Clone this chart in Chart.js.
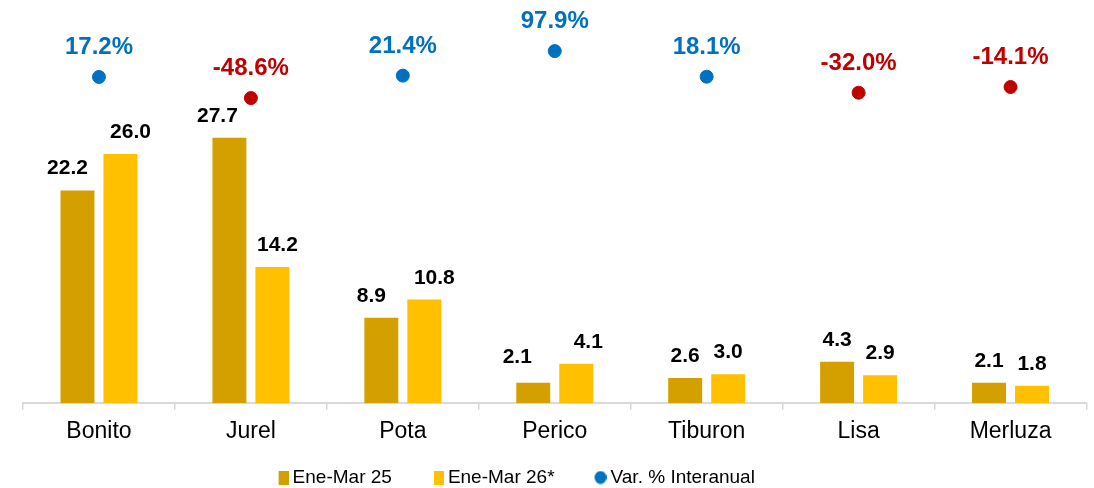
<!DOCTYPE html>
<html>
<head>
<meta charset="utf-8">
<script src="https://cdn.jsdelivr.net/npm/chart.js@4.4.1/dist/chart.umd.min.js"></script>
<style>
html, body { margin: 0; padding: 0; background: #fff; }
#wrap { width: 1094px; height: 488px; }
</style>
</head>
<body>
<div id="wrap"><canvas id="capturasChart" width="1094" height="488"></canvas></div>
<script>
const especies = ['Bonito', 'Jurel', 'Pota', 'Perico', 'Tiburon', 'Lisa', 'Merluza'];
const eneMar25 = [22.2, 27.7, 8.9, 2.1, 2.6, 4.3, 2.1];
const eneMar26 = [26.0, 14.2, 10.8, 4.1, 3.0, 2.9, 1.8];
const varInteranual = [17.2, -48.6, 21.4, 97.9, 18.1, -32.0, -14.1];

const fuente = "'Liberation Sans', Arial, sans-serif";
const azul = '#0070C0';
const rojo = '#C00000';
const colorVar = varInteranual.map(v => v < 0 ? rojo : azul);

// marcadores de la leyenda (figura pegada al borde derecho del lienzo)
function marcador(color, forma) {
    const c = document.createElement('canvas');
    c.width = 51;
    c.height = 14;
    const g = c.getContext('2d');
    g.fillStyle = color;
    if (forma === 'circle') {
        g.beginPath();
        g.ellipse(45, 7, 6, 6.5, 0, 0, Math.PI * 2);
        g.fill();
    } else {
        g.fillRect(41, 0, 10, 14);
    }
    return c;
}
const marcas = [marcador('#D4A000', 'rect'), marcador('#FFC000', 'rect'), marcador(azul, 'circle')];

// etiquetas de valores sobre barras y puntos
const etiquetas = {
    id: 'etiquetas',
    afterLayout(chart) {
        // leyenda algo más abajo y a la izquierda, como en el original
        const lg = chart.legend;
        lg.top += 9; lg.bottom += 9;
        lg.left -= 56; lg.right -= 56;
    },
    afterDatasetsDraw(chart) {
        const ctx = chart.ctx;
        ctx.save();
        ctx.textAlign = 'center';
        ctx.textBaseline = 'alphabetic';
        chart.data.datasets.forEach((ds, i) => {
            const meta = chart.getDatasetMeta(i);
            meta.data.forEach((el, j) => {
                const v = ds.data[j];
                if (ds.type === 'line') {
                    ctx.font = 'bold 24px ' + fuente;
                    ctx.fillStyle = colorVar[j];
                    ctx.fillText(v.toFixed(1) + '%', el.x, el.y - 23);
                } else {
                    ctx.font = 'bold 21px ' + fuente;
                    ctx.fillStyle = '#000';
                    const dx = ds.labelDx ? ds.labelDx[j] : 0;
                    const dy = ds.labelDy ? ds.labelDy[j] : 0;
                    ctx.fillText(v.toFixed(1), el.x + dx, el.y - 16 + dy);
                }
            });
        });
        ctx.restore();
    }
};

const ctx = document.getElementById('capturasChart').getContext('2d');
new Chart(ctx, {
    type: 'bar',
    data: {
        labels: especies,
        datasets: [
            {
                label: 'Ene-Mar 25',
                data: eneMar25,
                backgroundColor: '#D4A000',
                yAxisID: 'y',
                categoryPercentage: 0.566,
                barPercentage: 0.79,
                labelDx: [-10, -12, -10, -16, 0, 0, 0],
                labelDy: [0, 0, 0, -4, 0, 0, 0],
                order: 2
            },
            {
                label: 'Ene-Mar 26*',
                data: eneMar26,
                backgroundColor: '#FFC000',
                yAxisID: 'y',
                categoryPercentage: 0.566,
                barPercentage: 0.79,
                labelDx: [10, 5, 10, 12, 0, 0, 0],
                order: 3
            },
            {
                type: 'line',
                label: 'Var. % Interanual',
                data: varInteranual,
                yAxisID: 'y1',
                showLine: false,
                backgroundColor: azul,
                borderColor: azul,
                pointBackgroundColor: colorVar,
                pointBorderColor: colorVar,
                pointRadius: 6.5,
                pointHoverRadius: 6.5,
                order: 1
            }
        ]
    },
    options: {
        responsive: false,
        animation: false,
        layout: {
            padding: { top: 20, left: 23, right: 7, bottom: 0 }
        },
        scales: {
            x: {
                offset: true,
                grid: {
                    offset: true,
                    drawOnChartArea: false,
                    drawTicks: true,
                    tickLength: 7,
                    color: '#D9D9D9',
                    lineWidth: 1.5
                },
                border: { display: true, color: '#D9D9D9', width: 2 },
                ticks: {
                    color: '#000',
                    font: { family: fuente, size: 23 },
                    padding: 7.5,
                    maxRotation: 0,
                    autoSkip: false
                }
            },
            y: { display: false, min: 0, max: 40 },
            y1: { display: false, min: -1000, max: 195 }
        },
        plugins: {
            legend: {
                position: 'bottom',
                labels: {
                    color: '#000',
                    font: { family: fuente, size: 19 },
                    usePointStyle: true,
                    pointStyleWidth: 40,
                    padding: 6.5,
                    sort: (a, b) => a.datasetIndex - b.datasetIndex,
                    generateLabels(chart) {
                        const items = Chart.defaults.plugins.legend.labels.generateLabels(chart);
                        items.forEach(it => { it.pointStyle = marcas[it.datasetIndex]; });
                        return items;
                    }
                }
            },
            tooltip: { enabled: false }
        }
    },
    plugins: [etiquetas]
});
</script>
</body>
</html>
